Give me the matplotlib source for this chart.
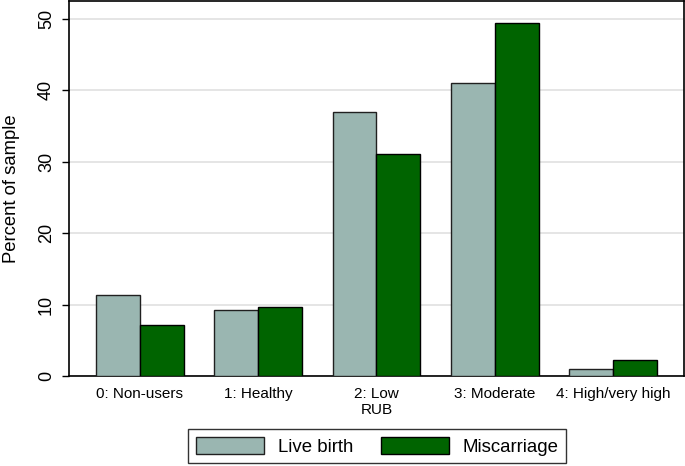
import matplotlib
matplotlib.use("Agg")
import matplotlib.pyplot as plt
import numpy as np

plt.rcParams['font.family'] = ['Liberation Sans', 'DejaVu Sans']

categories = ["0: Non-users", "1: Healthy", "2: Low\nRUB", "3: Moderate", "4: High/very high"]
live_birth = [11.4, 9.2, 36.9, 41.0, 0.95]
miscarriage = [7.1, 9.7, 31.1, 49.4, 2.2]
yticks = [0, 10, 20, 30, 40, 50]

fig = plt.figure(figsize=(6.85, 4.66), dpi=100)
ax = fig.add_axes([0.1007, 0.193, 0.8978, 0.805])

x = np.arange(len(categories))
w = 0.37
ax.bar(x - w/2, live_birth, w, color="#9ab6b1", edgecolor="#202020", linewidth=1.0, label="Live birth", zorder=3)
ax.bar(x + w/2, miscarriage, w, color="#006400", edgecolor="#000000", linewidth=1.0, label="Miscarriage", zorder=3)

ax.set_xlim(-0.6, 4.6)
ax.set_ylim(0, 52.5)
ax.set_yticks(yticks)
ax.set_yticklabels([str(t) for t in yticks], rotation=90, va="center", fontsize=13)
ax.set_xticks(x)
ax.set_xticklabels(categories, fontsize=11, linespacing=1.2)
ax.tick_params(axis="x", length=0, pad=8)
ax.tick_params(axis="y", length=5, width=1, color="black", pad=5)
ax.grid(axis="y", color="#e0e0e0", linewidth=1.2, zorder=0)
for s in ax.spines.values():
    s.set_linewidth(1.2)
    s.set_color("black")
ax.set_ylabel("Percent of sample", fontsize=13.3)
ax.yaxis.set_label_coords(-0.08, 0.5)

leg = fig.legend(loc="lower center", bbox_to_anchor=(0.551, 0.006), ncol=2, fontsize=13.4,
                 frameon=True, fancybox=False, edgecolor="black", handlelength=3.65,
                 handleheight=1.05, columnspacing=1.5, handletextpad=0.75, borderpad=0.4,
                 borderaxespad=0)
leg.get_frame().set_linewidth(1.0)

fig.savefig("out.png", dpi=100)
